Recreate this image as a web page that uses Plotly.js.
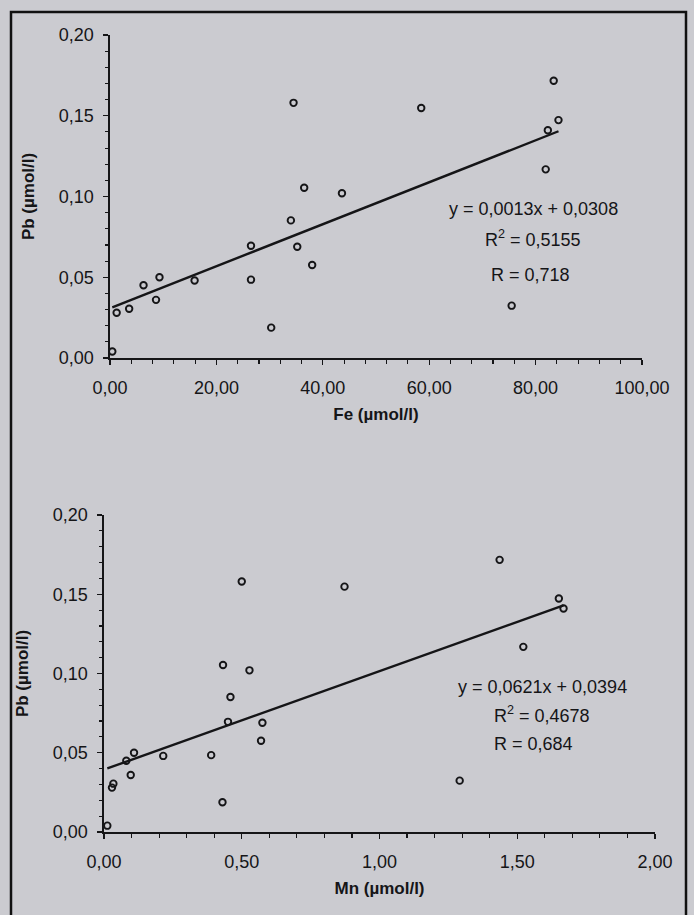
<!DOCTYPE html>
<html>
<head>
<meta charset="utf-8">
<script src="https://cdn.plot.ly/plotly-3.0.1.min.js"></script>
<style>html,body{margin:0;padding:0;background:#cbcbd0;}#chart{width:694px;height:915px;}</style>
</head>
<body>
<div id="chart"></div>
<script>
// Pb concentration (µmol/l) for each sample
const pb = [0.004, 0.028, 0.0305, 0.045, 0.036, 0.050, 0.048, 0.0485, 0.0695, 0.0689, 0.0188, 0.0852, 0.158, 0.1054, 0.0576, 0.102, 0.1548, 0.1717, 0.1473, 0.141, 0.1168, 0.0324];
// Fe concentration (µmol/l), same samples
const fe = [0.43, 1.25, 3.6, 6.3, 8.65, 9.3, 15.9, 26.5, 26.5, 35.2, 30.3, 34.0, 34.5, 36.5, 38.0, 43.6, 58.5, 83.4, 84.3, 82.3, 81.9, 75.5];
// Mn concentration (µmol/l), same samples
const mn = [0.012, 0.029, 0.034, 0.081, 0.097, 0.109, 0.215, 0.389, 0.450, 0.575, 0.430, 0.459, 0.50, 0.432, 0.570, 0.528, 0.873, 1.436, 1.651, 1.668, 1.522, 1.291];

// linear trend lines (end points as drawn)
const feFitX = [0.43, 84.3];
const feFitY = [0.0314, 0.1404];
const mnFitX = [0.012, 1.668];
const mnFitY = [0.0401, 0.1430];

// equation labels
const feLabels = ["y = 0,0013x + 0,0308", "R<sup>2</sup> = 0,5155", "R = 0,718"];
const mnLabels = ["y = 0,0621x + 0,0394", "R<sup>2</sup> = 0,4678", "R = 0,684"];

const ink = '#151517';
const bg = '#cbcbd0';
const font = 'Liberation Sans, Arial, sans-serif';

const markerStyle = {symbol: 'circle-open', size: 6.5, color: ink, line: {width: 1.9, color: ink}};

const traces = [
  {x: fe, y: pb, type: 'scatter', mode: 'markers', marker: markerStyle, xaxis: 'x', yaxis: 'y', cliponaxis: false, hoverinfo: 'x+y'},
  {x: feFitX, y: feFitY, type: 'scatter', mode: 'lines', line: {color: ink, width: 2.4}, xaxis: 'x', yaxis: 'y', cliponaxis: false},
  {x: mn, y: pb, type: 'scatter', mode: 'markers', marker: markerStyle, xaxis: 'x2', yaxis: 'y2', cliponaxis: false, hoverinfo: 'x+y'},
  {x: mnFitX, y: mnFitY, type: 'scatter', mode: 'lines', line: {color: ink, width: 2.4}, xaxis: 'x2', yaxis: 'y2', cliponaxis: false}
];

function xAxis(domain, range, dtick, minorDtick, anchor, title) {
  return {
    domain: domain, range: range, anchor: anchor, dtick: dtick, tick0: 0, tickformat: '.2f',
    showline: true, linecolor: ink, linewidth: 1.6, showgrid: false, zeroline: false,
    ticks: 'outside', ticklen: 5, tickwidth: 1.4, tickcolor: ink,
    minor: {dtick: minorDtick, ticks: 'outside', ticklen: 4, tickwidth: 1.1, tickcolor: ink, showgrid: false},
    ticklabelstandoff: 8,
    tickfont: {family: font, size: 18, color: ink},
    title: {text: title, font: {family: font, size: 17, color: ink, weight: 'bold'}, standoff: 11},
    fixedrange: true
  };
}
function yAxis(domain, anchor, title) {
  return {
    domain: domain, range: [0, 0.2], anchor: anchor, dtick: 0.05, tick0: 0, tickformat: '.2f',
    showline: true, linecolor: ink, linewidth: 1.6, showgrid: false, zeroline: false,
    ticks: 'outside', ticklen: 5, tickwidth: 1.4, tickcolor: ink,
    minor: {dtick: 0.01, ticks: 'outside', ticklen: 3, tickwidth: 1.1, tickcolor: ink, showgrid: false},
    ticklabelstandoff: 6,
    tickfont: {family: font, size: 18, color: ink},
    title: {text: title, font: {family: font, size: 17, color: ink, weight: 'bold'}, standoff: 20},
    fixedrange: true
  };
}

function eqAnnotations(labels, xs, ys) {
  return labels.map((t, i) => ({
    text: t, xref: 'paper', yref: 'paper', x: xs[i], y: ys[i], xanchor: 'center', yanchor: 'middle',
    showarrow: false, font: {family: font, size: 18, color: ink}
  }));
}

const W = 694, H = 915;
const px = v => v / W, py = v => 1 - v / H;

const layout = {
  width: W, height: H,
  margin: {l: 0, r: 0, t: 0, b: 0},
  paper_bgcolor: bg, plot_bgcolor: bg,
  separators: ', ',
  showlegend: false,
  font: {family: font, color: ink},
  xaxis: xAxis([px(110), px(642)], [0, 100], 20, 4, 'y', 'Fe (µmol/l)'),
  yaxis: yAxis([py(358), py(35)], 'x', 'Pb (µmol/l)'),
  xaxis2: xAxis([px(104), px(655)], [0, 2], 0.5, 0.1, 'y2', 'Mn (µmol/l)'),
  yaxis2: yAxis([py(832), py(515)], 'x2', 'Pb (µmol/l)'),
  annotations: [
    ...eqAnnotations(feLabels, [px(533), px(533), px(530)], [py(209), py(238), py(275)]),
    ...eqAnnotations(mnLabels, [px(542), px(542), px(533)], [py(687), py(714), py(744)])
  ],
  shapes: [
    {type: 'rect', xref: 'paper', yref: 'paper', x0: px(11), x1: px(686), y0: -0.05, y1: py(12),
     line: {color: '#111', width: 2.5}, fillcolor: 'rgba(0,0,0,0)', layer: 'above'}
  ]
};

Plotly.newPlot('chart', traces, layout, {displayModeBar: false, staticPlot: true});
</script>
</body>
</html>
